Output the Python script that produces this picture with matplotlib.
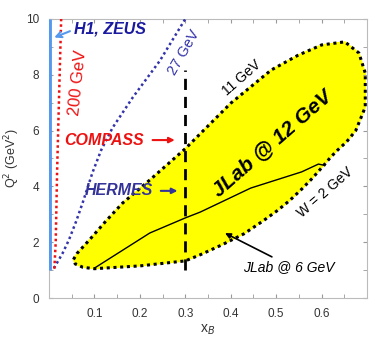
import matplotlib
matplotlib.use("Agg")
import matplotlib.pyplot as plt
import numpy as np

plt.rcParams['font.family'] = ['Liberation Sans', 'DejaVu Sans']

# JLab 12 GeV region boundary (x_B, Q^2)
jlab12_x = [0.054, 0.062, 0.089, 0.125, 0.162, 0.222, 0.300, 0.400, 0.489, 0.548, 0.600,
            0.651, 0.682, 0.696, 0.696, 0.690, 0.675, 0.655, 0.635, 0.620, 0.607, 0.580,
            0.556, 0.530, 0.504, 0.470, 0.429, 0.380, 0.333, 0.300, 0.200, 0.100, 0.075, 0.058]
jlab12_q2 = [1.38, 1.60, 2.08, 2.75, 3.40, 4.23, 5.35, 6.98, 8.17, 8.70, 9.07,
             9.18, 8.78, 8.06, 6.85, 6.60, 6.00, 5.60, 5.30, 5.05, 4.80, 4.30,
             3.90, 3.50, 3.15, 2.75, 2.30, 1.90, 1.55, 1.33, 1.15, 1.05, 1.10, 1.22]
# JLab 6 GeV upper limit
jlab6_x = [0.100, 0.222, 0.300, 0.333, 0.444, 0.556, 0.593, 0.607]
jlab6_q2 = [1.07, 2.33, 2.87, 3.08, 3.94, 4.52, 4.80, 4.75]
# HERMES 27 GeV
hermes_x = [0.011, 0.030, 0.044, 0.060, 0.074, 0.096, 0.115, 0.140, 0.185, 0.244, 0.300]
hermes_q2 = [1.07, 1.60, 2.08, 2.75, 3.40, 4.50, 5.30, 6.10, 7.20, 8.50, 10.0]
# COMPASS 200 GeV
compass_x = [0.012, 0.015, 0.018, 0.022, 0.027]
compass_q2 = [1.05, 2.0, 4.5, 7.0, 10.0]
# H1, ZEUS
hera_x = [0.001, 0.001]
hera_q2 = [1.0, 10.0]
# x = 0.3 line
xcut_x = [0.3, 0.3]
xcut_q2 = [1.0, 8.17]

xticks = [0.1, 0.2, 0.3, 0.4, 0.5, 0.6]
yticks = [0, 2, 4, 6, 8, 10]

fig = plt.figure(figsize=(3.82, 3.37), dpi=100)
ax = fig.add_axes([0.128, 0.1157, 0.833, 0.828])

ax.fill(jlab12_x, jlab12_q2, color='#ffff00', zorder=1)
ax.plot(jlab12_x + [jlab12_x[0]], jlab12_q2 + [jlab12_q2[0]], color='black', ls=(0, (1, 1.2)), lw=2.2, zorder=2)
ax.plot(jlab6_x, jlab6_q2, color='black', lw=1, zorder=3)
ax.plot(hermes_x, hermes_q2, color='#3333aa', ls=(0, (1, 1.2)), lw=1.8, zorder=3)
ax.plot(compass_x, compass_q2, color='#ee1111', ls=(0, (1, 1.2)), lw=1.8, zorder=3)
ax.plot(hera_x, hera_q2, color='#5599ee', lw=3.5, solid_capstyle='butt', zorder=3)
ax.plot(xcut_x, xcut_q2, color='black', lw=2, ls=(0, (4, 2.5)), zorder=4)

ax.set_xlim(0, 0.7)
ax.set_ylim(0, 10)
ax.set_xticks(xticks)
ax.set_xticklabels([f"{v:.1f}" for v in xticks])
ax.set_xticks(np.arange(0.05, 0.7, 0.1), minor=True)
ax.set_yticks(yticks)
ax.set_yticks([1, 3, 5, 7, 9], minor=True)
ax.tick_params(which='both', direction='in', top=True, right=True, length=3,
               color='#999999', labelsize=8.5, labelcolor='#333333', pad=7)
for s in ax.spines.values():
    s.set_color('#bbbbbb')
    s.set_linewidth(0.8)

ax.set_ylabel('Q$^2$ (GeV$^2$)', fontsize=9, color='#333333', labelpad=3)
ax.set_xlabel('x$_B$', fontsize=10, color='#333333', labelpad=2)

# annotations
ax.text(0.056, 9.64, 'H1, ZEUS', color='#1a1aa0', fontsize=11.5, fontweight='bold',
        fontstyle='italic', va='center', ha='left')
ax.annotate('', xy=(0.006, 9.3), xytext=(0.052, 9.6),
            arrowprops=dict(arrowstyle='->', color='#5599ee', lw=1.5))
ax.text(0.064, 7.7, '200 GeV', color='#ee1111', fontsize=12, rotation=84,
        ha='center', va='center')
ax.text(0.298, 8.8, '27 GeV', color='#3333aa', fontsize=10.5, rotation=60,
        ha='center', va='center')
ax.text(0.033, 5.66, 'COMPASS', color='#ee1111', fontsize=11.5, fontweight='bold',
        fontstyle='italic', va='center', ha='left')
ax.annotate('', xy=(0.283, 5.66), xytext=(0.222, 5.66),
            arrowprops=dict(arrowstyle='-|>', color='#ee1111', lw=1.5, mutation_scale=8))
ax.text(0.078, 3.84, 'HERMES', color='#333399', fontsize=11.5, fontweight='bold',
        fontstyle='italic', va='center', ha='left')
ax.annotate('', xy=(0.289, 3.84), xytext=(0.24, 3.84),
            arrowprops=dict(arrowstyle='-|>', color='#333399', lw=1.5, mutation_scale=8))
ax.text(0.425, 7.9, '11 GeV', color='black', fontsize=10, rotation=41,
        ha='center', va='center')
ax.text(0.491, 5.56, 'JLab @ 12 GeV', color='black', fontsize=15, fontweight='bold',
        fontstyle='italic', rotation=41, ha='center', va='center')
ax.text(0.607, 3.78, 'W = 2 GeV', color='black', fontsize=10, rotation=41,
        ha='center', va='center')
ax.text(0.527, 1.11, 'JLab @ 6 GeV', color='black', fontsize=10, fontstyle='italic',
        ha='center', va='center')
ax.annotate('', xy=(0.382, 2.37), xytext=(0.496, 1.43),
            arrowprops=dict(arrowstyle='-|>', color='black', lw=1.2, mutation_scale=8))

fig.savefig('out.png', dpi=100)
